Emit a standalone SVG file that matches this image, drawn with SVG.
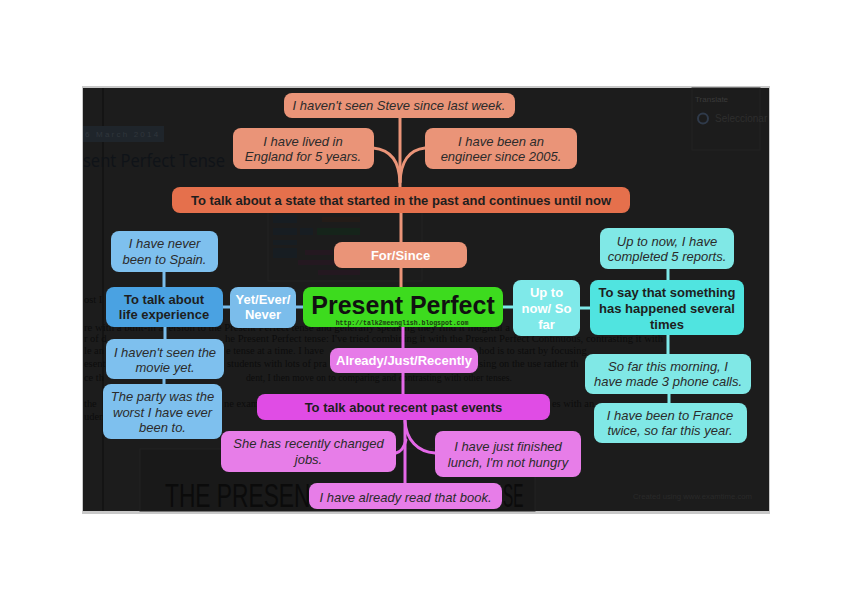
<svg xmlns="http://www.w3.org/2000/svg" width="848" height="599" viewBox="0 0 848 599">
<style>
.ex{font-family:"Liberation Sans",Arial,sans-serif;font-style:italic;font-size:13px;fill:#2b2b2b;text-anchor:middle}
.cat{font-family:"Liberation Sans",Arial,sans-serif;font-weight:bold;font-size:13px;fill:#1e1e1e;text-anchor:middle}
.lbl{font-family:"Liberation Sans",Arial,sans-serif;font-weight:bold;font-size:13px;fill:#ffffff;text-anchor:middle}
.bg{font-family:"Liberation Serif","Times New Roman",serif;font-size:10.4px;fill:#0c0c0c}
.big{font-family:"Liberation Sans",Arial,sans-serif;font-size:34px;fill:#0b0b0b}
.o1{fill:#ea9478}.o2{fill:#e5704c}
.b1{fill:#7ec0ee}.b2{fill:#4aa2e2}.b3{fill:#7bbdeb}
.c1{fill:#80e8e6}.c2{fill:#50e4e0}.c3{fill:#7fe9e9}
.m1{fill:#e77de8}.m2{fill:#e04ce5}.m3{fill:#e67ae8}
.co{stroke:#ea9478}.cb{stroke:#7bbdeb}.cc{stroke:#7fe9e9}.cm{stroke:#e468e8}
#connectors path{fill:none;stroke-width:3;stroke-linecap:round}
.th1{fill:#171d22}.th2{fill:#15241a}.th3{fill:#241820}.th4{fill:#241c18}
</style>
<rect x="0" y="0" width="848" height="599" fill="#ffffff"/>
<g id="background">
<rect x="82" y="86" width="688" height="428" fill="#c8c8c8"/>
<rect x="83" y="88" width="686" height="423" fill="#1c1c1c"/>
<line x1="103" y1="88" x2="103" y2="511" stroke="#121212" stroke-width="1.5"/>
<rect x="83" y="126" width="81" height="16" fill="#1f252b"/>
<text x="85" y="137" font-family="Liberation Sans, sans-serif" font-size="8" letter-spacing="2.2" fill="#30363c">6 March 2014</text>
<text x="83" y="167" font-family="Open Sans, sans-serif" font-size="19" fill="#0f1318" textLength="142" lengthAdjust="spacingAndGlyphs">sent Perfect Tense</text>
<rect x="692" y="88" width="68" height="62" fill="none" stroke="#222222"/>
<text x="695" y="102" font-family="Liberation Sans, sans-serif" font-size="8" fill="#3a3a3a">Translate</text>
<circle cx="703" cy="118.5" r="5" fill="none" stroke="#2f3a4a" stroke-width="2"/>
<text x="715" y="122" font-family="Liberation Sans, sans-serif" font-size="10" fill="#2e2e2e">Seleccionar</text>
<rect x="268" y="192" width="154" height="89" fill="none" stroke="#232323"/>
<rect class="th1" x="273" y="215" width="24" height="8"/>
<rect class="th4" x="322" y="217" width="38" height="5"/>
<rect class="th1" x="273" y="228" width="24" height="7"/>
<rect class="th1" x="300" y="228" width="13" height="7"/>
<rect class="th2" x="317" y="228" width="43" height="7"/>
<rect class="th1" x="273" y="240" width="24" height="5"/>
<rect class="th1" x="273" y="248" width="24" height="10"/>
<rect class="th3" x="305" y="250" width="28" height="5"/>
<rect class="th3" x="298" y="260" width="39" height="5"/>
<rect class="th3" x="318" y="270" width="42" height="5"/>
<text class="bg" x="84" y="303">ost I</text>
<text class="bg" x="84" y="331" textLength="426" lengthAdjust="spacingAndGlyphs">re with a built-in aversion to the Present Perfect tense and generally speaking they find it illogical a</text>
<text class="bg" x="84" y="342">r of d</text>
<text class="bg" x="225" y="342" textLength="438" lengthAdjust="spacingAndGlyphs">he Present Perfect tense: I've tried combining it with the Present Perfect Continuous, contrasting it with</text>
<text class="bg" x="84" y="354">le an</text>
<text class="bg" x="226" y="354">e tense at a time. I have</text>
<text class="bg" x="479" y="354">hod is to start by focusing</text>
<text class="bg" x="84" y="367">esent</text>
<text class="bg" x="227" y="367">students with lots of pra</text>
<text class="bg" x="479" y="367">sing on the use rather th</text>
<text class="bg" x="84" y="381">ce th</text>
<text class="bg" x="246" y="381" textLength="266" lengthAdjust="spacingAndGlyphs">dent, I then move on to comparing and contrasting with other tenses.</text>
<text class="bg" x="84" y="407">the</text>
<text class="bg" x="224" y="407">ne exam</text>
<text class="bg" x="552" y="407">es with an</text>
<text class="bg" x="84" y="420">uden</text>
<rect x="140" y="449" width="395" height="62" fill="#191919" stroke="#222222"/>
<text class="big" transform="translate(165,507) scale(0.67,1)" x="0" y="0">THE PRESEN</text>
<text class="big" transform="translate(503,507) scale(0.45,1)" x="0" y="0">SE</text>
<text x="633" y="499" font-family="Liberation Sans, sans-serif" font-size="8" fill="#2a2a2a" textLength="119" lengthAdjust="spacingAndGlyphs">Created using www.examtime.com</text>
</g>
<g id="connectors">
<path class="co" d="M400,118 V187"/>
<path class="co" d="M373,148 C392,150 399,162 400,182"/>
<path class="co" d="M425,148 C408,150 401,162 400,182"/>
<path class="co" d="M401,213 V242"/>
<path class="co" d="M401,268 V287"/>
<path class="cb" d="M164,272 V287"/>
<path class="cb" d="M165,327 V339"/>
<path class="cb" d="M164,379 V384"/>
<path class="cb" d="M223,307 H230"/>
<path class="cb" d="M296,307 H303"/>
<path class="cc" d="M503,307 H513"/>
<path class="cc" d="M580,308 H590"/>
<path class="cc" d="M668,269 V280"/>
<path class="cc" d="M668,335 V354"/>
<path class="cc" d="M669,394 V403"/>
<path class="cm" d="M403,327 V348"/>
<path class="cm" d="M403,373 V394"/>
<path class="cm" d="M405,420 V483"/>
<path class="cm" d="M405,421 C406,440 418,452 435,453"/>
<path class="cm" d="M406,440 C404,448 401,452 396,453"/>
</g>
<g id="n_steve"><rect class="o1" x="284" y="93" width="231" height="25" rx="8"/><text class="ex" x="399" y="110">I haven't seen Steve since last week.</text></g>
<g id="n_lived"><rect class="o1" x="233" y="128" width="141" height="41" rx="8"/><text class="ex" x="303" y="145.5">I have lived in</text><text class="ex" x="303" y="161">England for 5 years.</text></g>
<g id="n_engineer"><rect class="o1" x="425" y="128" width="152" height="41" rx="8"/><text class="ex" x="501" y="145.5">I have been an</text><text class="ex" x="501" y="161">engineer since 2005.</text></g>
<g id="n_state"><rect class="o2" x="172" y="187" width="458" height="26" rx="8"/><text class="cat" x="401" y="204.5">To talk about a state that started in the past and continues until now</text></g>
<g id="n_forsince"><rect class="o1" x="334" y="242" width="133" height="26" rx="8"/><text class="lbl" x="400.5" y="259.5">For/Since</text></g>
<g id="n_present_perfect"><rect x="303" y="287" width="200" height="40" rx="8" fill="#3ddb1e"/><text x="403" y="313.5" font-family="Liberation Sans, Arial, sans-serif" font-weight="bold" font-size="25" fill="#111111" text-anchor="middle">Present Perfect</text><text x="402" y="324.5" font-family="Liberation Mono, monospace" font-weight="bold" font-size="6.5" fill="#1a3a10" text-anchor="middle">http://talk2meenglish.blogspot.com</text></g>
<g id="n_yet"><rect class="b3" x="230" y="287" width="66" height="41" rx="8"/><text class="lbl" x="263" y="303.5">Yet/Ever/</text><text class="lbl" x="263" y="319">Never</text></g>
<g id="n_life"><rect class="b2" x="106" y="287" width="117" height="40" rx="8"/><text class="cat" x="164" y="303.5">To talk about</text><text class="cat" x="164" y="319">life experience</text></g>
<g id="n_spain"><rect class="b1" x="111" y="231" width="107" height="41" rx="8"/><text class="ex" x="164.5" y="248">I have never</text><text class="ex" x="164.5" y="263.5">been to Spain.</text></g>
<g id="n_movie"><rect class="b1" x="106" y="339" width="118" height="40" rx="8"/><text class="ex" x="165" y="356.5">I haven't seen the</text><text class="ex" x="165" y="372">movie yet.</text></g>
<g id="n_party"><rect class="b1" x="103" y="384" width="119" height="55" rx="8"/><text class="ex" x="162.5" y="401">The party was the</text><text class="ex" x="162.5" y="416.5">worst I have ever</text><text class="ex" x="162.5" y="432">been to.</text></g>
<g id="n_upto"><rect class="c3" x="513" y="280" width="67" height="56" rx="8"/><text class="lbl" x="546.5" y="296.5">Up to</text><text class="lbl" x="546.5" y="312.5">now/ So</text><text class="lbl" x="546.5" y="328.5">far</text></g>
<g id="n_say"><rect class="c2" x="590" y="280" width="154" height="55" rx="8"/><text class="cat" x="667" y="296.5">To say that something</text><text class="cat" x="667" y="312.5">has happened several</text><text class="cat" x="667" y="328.5">times</text></g>
<g id="n_reports"><rect class="c1" x="600" y="228" width="134" height="41" rx="8"/><text class="ex" x="667" y="245.5">Up to now, I have</text><text class="ex" x="667" y="260.5">completed 5 reports.</text></g>
<g id="n_sofar"><rect class="c1" x="585" y="354" width="166" height="40" rx="8"/><text class="ex" x="668" y="371">So far this morning, I</text><text class="ex" x="668" y="386">have made 3 phone calls.</text></g>
<g id="n_france"><rect class="c1" x="594" y="403" width="153" height="40" rx="8"/><text class="ex" x="670" y="419.5">I have been to France</text><text class="ex" x="670" y="435">twice, so far this year.</text></g>
<g id="n_already"><rect class="m3" x="330" y="348" width="148" height="25" rx="8"/><text class="lbl" x="404" y="364.5">Already/Just/Recently</text></g>
<g id="n_recent"><rect class="m2" x="257" y="394" width="293" height="26" rx="8"/><text class="cat" x="403.5" y="412">To talk about recent past events</text></g>
<g id="n_she"><rect class="m1" x="221" y="431" width="175" height="41" rx="8"/><text class="ex" x="308.5" y="448">She has recently changed</text><text class="ex" x="308.5" y="463.5">jobs.</text></g>
<g id="n_lunch"><rect class="m1" x="435" y="431" width="146" height="46" rx="8"/><text class="ex" x="508" y="451">I have just finished</text><text class="ex" x="508" y="466.5">lunch, I'm not hungry</text></g>
<g id="n_book"><rect class="m1" x="309" y="483" width="193" height="26" rx="8"/><text class="ex" x="405.5" y="501.5">I have already read that book.</text></g>
</svg>
